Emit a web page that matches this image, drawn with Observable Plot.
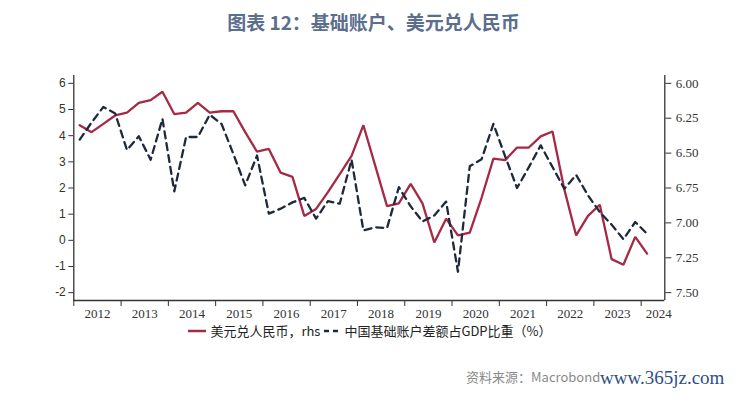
<!DOCTYPE html>
<html>
<head>
<meta charset="utf-8">
<script src="https://cdn.jsdelivr.net/npm/d3@7"></script>
<script src="https://cdn.jsdelivr.net/npm/@observablehq/plot@0.6"></script>
<style>
  html, body { margin: 0; padding: 0; background: #fff; }
  body { width: 747px; height: 399px; position: relative; overflow: hidden; }
  #title { position: absolute; top: 8px; left: 0; width: 747px; text-align: center;
    font-family: "Noto Sans CJK SC", "Noto Sans", sans-serif; font-weight: 700; font-size: 19px;
    line-height: 28px; color: #5b6e8d; }
  #chart { position: absolute; top: 40px; left: 0; }
  #legend { position: absolute; top: 322px; left: 0; width: 740px; text-align: center;
    font-family: "Noto Sans CJK SC", sans-serif; font-size: 13px; line-height: 18px; color: #222; white-space: nowrap; }
  #legend span.item { display: inline-flex; align-items: center; margin: 0 2px; }
  #legend svg { margin-right: 4px; }
  #source { position: absolute; top: 367px; left: 466px; font-family: "Noto Sans CJK SC", sans-serif;
    font-size: 13px; color: #8a8a8a; white-space: nowrap; }
  #wm { position: absolute; top: 367px; left: 600px; font-family: "Liberation Serif", serif;
    font-size: 19px; color: #2d4f86; white-space: nowrap; }
</style>
</head>
<body>
<div id="title">图表 12：基础账户、美元兑人民币</div>
<div id="chart"></div>
<div id="legend"></div>
<div id="source">资料来源：Macrobond</div>
<div id="wm">www.365jz.com</div>
<script>
const quarters = [
  "2012Q1","2012Q2","2012Q3","2012Q4","2013Q1","2013Q2","2013Q3","2013Q4",
  "2014Q1","2014Q2","2014Q3","2014Q4","2015Q1","2015Q2","2015Q3","2015Q4",
  "2016Q1","2016Q2","2016Q3","2016Q4","2017Q1","2017Q2","2017Q3","2017Q4",
  "2018Q1","2018Q2","2018Q3","2018Q4","2019Q1","2019Q2","2019Q3","2019Q4",
  "2020Q1","2020Q2","2020Q3","2020Q4","2021Q1","2021Q2","2021Q3","2021Q4",
  "2022Q1","2022Q2","2022Q3","2022Q4","2023Q1","2023Q2","2023Q3","2023Q4",
  "2024Q1"
];
// 美元兑人民币 (rhs, reversed)
const usdcny = [
  6.30, 6.35, 6.29, 6.23, 6.21, 6.14, 6.12, 6.06,
  6.22, 6.21, 6.14, 6.21, 6.20, 6.20, 6.35, 6.49,
  6.47, 6.64, 6.67, 6.95, 6.90, 6.78, 6.65, 6.52,
  6.30, 6.59, 6.88, 6.86, 6.72, 6.86, 7.14, 6.97,
  7.09, 7.07, 6.82, 6.54, 6.55, 6.46, 6.46, 6.38,
  6.345, 6.76, 7.09, 6.95, 6.87, 7.26, 7.30, 7.10,
  7.22
];
// 中国基础账户差额占GDP比重 (%)
const basicBalance = [
  3.85, 4.50, 5.10, 4.85, 3.45, 3.98, 3.08, 4.64,
  1.87, 3.95, 3.95, 4.80, 4.45, 3.30, 2.10, 3.24,
  1.02, 1.21, 1.45, 1.62, 0.83, 1.50, 1.40, 3.08,
  0.38, 0.50, 0.47, 2.03, 1.30, 0.72, 0.95, 1.48,
  -1.20, 2.83, 3.10, 4.45, 3.20, 2.00, 2.80, 3.63,
  2.80, 1.97, 2.50, 1.72, 1.08, 0.60, 0.04, 0.70,
  0.25
];
const leftTicks = [-2, -1, 0, 1, 2, 3, 4, 5, 6];
const rightTicks = [6.00, 6.25, 6.50, 6.75, 7.00, 7.25, 7.50];
const yearLabels = ["2012","2013","2014","2015","2016","2017","2018","2019","2020","2021","2022","2023","2024"];
const seriesNames = ["美元兑人民币，rhs", "中国基础账户差额占GDP比重（%）"];

const red = "#a42a46";
const navy = "#1e2a3c";

const xStart = 2012, xEnd = 2024.5;
const yDomain = [-2.3, 6.3];
// right axis: 6.00 at left 6, 7.50 at left -2 (reversed)
const rhsToLeft = r => 6 - (r - 6) * 8 / 1.5;
const leftToRhs = l => 6 + (6 - l) * 1.5 / 8;
const qToX = q => +q.slice(0, 4) + (+q.slice(5) - 0.5) / 4;

const rows = quarters.map((q, i) => ({x: qToX(q), fx: usdcny[i], bb: basicBalance[i]}));
const yearTicks = yearLabels.map(Number);
const yearLabelPos = yearTicks.map(y => Math.min(y + 0.5, xEnd - 0.13));

const chart = Plot.plot({
  width: 747,
  height: 282,
  marginTop: 35,
  marginBottom: 22,
  marginLeft: 73.3,
  marginRight: 82.7,
  style: {color: "#333", background: "transparent", overflow: "visible"},
  x: {domain: [xStart, xEnd], axis: null},
  y: {domain: yDomain, axis: null},
  marks: [
    Plot.line(rows, {x: "x", y: d => rhsToLeft(d.fx), stroke: red, strokeWidth: 2.3, strokeLinejoin: "miter"}),
    Plot.line(rows, {x: "x", y: "bb", stroke: navy, strokeWidth: 2.3, strokeDasharray: "7,5"}),
    Plot.ruleX([xStart, xEnd], {stroke: "#333", strokeWidth: 1.3}),
    Plot.ruleY([yDomain[0]], {stroke: "#333", strokeWidth: 1.3}),
    Plot.axisY({anchor: "left", ticks: leftTicks, tickSize: 5, tickPadding: 3, label: null,
      fontFamily: "Liberation Sans, Arial, sans-serif", fontSize: 12, tickFormat: d => String(d)}),
    Plot.axisY({anchor: "right", ticks: rightTicks.map(rhsToLeft), tickSize: 6, tickPadding: 5, label: null,
      fontFamily: "Liberation Serif, serif", fontSize: 13, tickFormat: d => leftToRhs(d).toFixed(2)}),
    Plot.axisX({anchor: "bottom", ticks: yearTicks, tickSize: 6, label: null, tickFormat: () => ""}),
    Plot.axisX({anchor: "bottom", ticks: yearLabelPos, tickSize: 0, tickPadding: 8, label: null,
      fontFamily: "Liberation Serif, serif", fontSize: 13,
      tickFormat: (d) => yearLabels[yearLabelPos.indexOf(d)]})
  ]
});
document.getElementById("chart").appendChild(chart);

const legend = document.getElementById("legend");
legend.innerHTML =
  `<span class="item"><svg width="18" height="10"><line x1="0" y1="5" x2="18" y2="5" stroke="${red}" stroke-width="2.5"/></svg>${seriesNames[0]}</span>` +
  `<span class="item"><svg width="16" height="10"><line x1="0" y1="5" x2="16" y2="5" stroke="${navy}" stroke-width="2.5" stroke-dasharray="5,4"/></svg>${seriesNames[1]}</span>`;
</script>
</body>
</html>
